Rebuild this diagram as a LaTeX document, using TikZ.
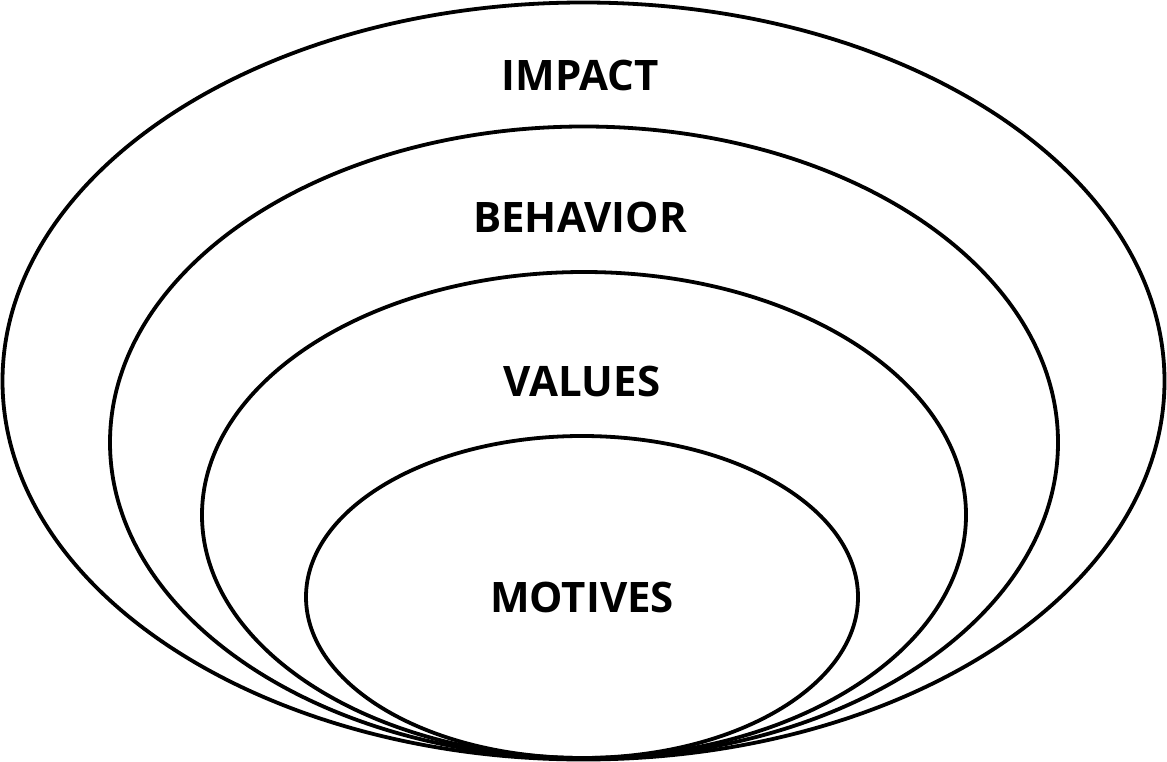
\documentclass[tikz,border=0pt]{standalone}
\usepackage{fontspec}
\setmainfont{Open Sans}
\begin{document}
\begin{tikzpicture}[x=1pt,y=-1pt,
  ring/.style={draw=black,line width=3.8pt},
  lbl/.style={font=\fontsize{42}{50}\selectfont\bfseries,inner sep=0pt}]
\useasboundingbox (0,0) rectangle (1167,762);
\draw[ring] (583.5,381) ellipse [x radius=581,y radius=378.5];
\draw[ring] (584,442.5) ellipse [x radius=474,y radius=316];
\draw[ring] (584,515) ellipse [x radius=382,y radius=243];
\draw[ring] (582,597) ellipse [x radius=276,y radius=161];
\node[lbl] (impact) at (580,76) {IMPACT};
\node[lbl] (behavior) at (580,217) {BEHAVIOR};
\node[lbl] (values) at (582,381) {VALUES};
\node[lbl] (motives) at (582,597) {MOTIVES};
\end{tikzpicture}
\end{document}
